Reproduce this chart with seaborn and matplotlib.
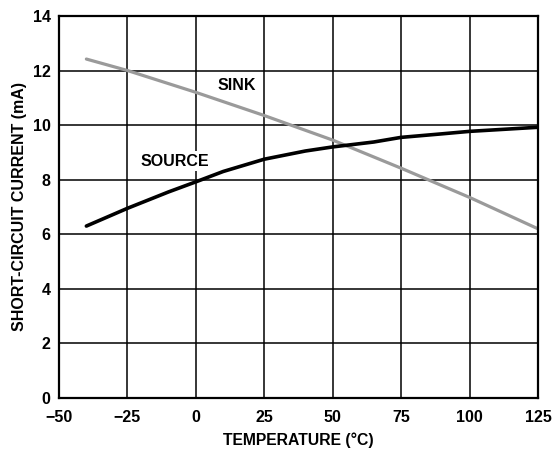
import pandas as pd
import matplotlib.pyplot as plt
import seaborn as sns

# readings (temperature in °C, current in mA)
sink_temp = [-40, -25, 0, 25, 50, 75, 100, 125]
sink_current = [12.42, 12.0, 11.2, 10.35, 9.45, 8.42, 7.35, 6.2]

source_temp = [-40, -25, -10, 0, 10, 25, 40, 50, 65, 75, 90, 100, 125]
source_current = [6.3, 6.95, 7.55, 7.92, 8.3, 8.75, 9.05, 9.2, 9.38, 9.55, 9.68, 9.77, 9.92]

x_ticks = [-50, -25, 0, 25, 50, 75, 100, 125]
y_ticks = [0, 2, 4, 6, 8, 10, 12, 14]

sns.set_style('white')
plt.rcParams['font.family'] = ['Liberation Sans', 'DejaVu Sans']
plt.rcParams['font.weight'] = 'bold'
plt.rcParams['text.color'] = 'black'
plt.rcParams['axes.labelcolor'] = 'black'
plt.rcParams['xtick.color'] = 'black'
plt.rcParams['ytick.color'] = 'black'

fig = plt.figure(figsize=(5.55, 4.5), dpi=100)
ax = fig.add_axes([0.1063, 0.1156, 0.863, 0.849])

sink = pd.DataFrame({'temp': sink_temp, 'current': sink_current})
source = pd.DataFrame({'temp': source_temp, 'current': source_current})

sns.lineplot(data=sink, x='temp', y='current', color='#9a9a9a', linewidth=2.3, ax=ax)
sns.lineplot(data=source, x='temp', y='current', color='black', linewidth=2.6, ax=ax)

ax.text(15, 11.45, 'SINK', fontsize=11.5, fontweight='bold', ha='center', va='center')
ax.text(-7.5, 8.68, 'SOURCE', fontsize=11.5, fontweight='bold', ha='center', va='center',
        bbox=dict(facecolor='white', edgecolor='none', pad=2))

ax.set_xlim(-50, 125)
ax.set_ylim(0, 14)
ax.set_xticks(x_ticks)
ax.set_yticks(y_ticks)
ax.tick_params(length=0, labelsize=11.5)
ax.tick_params(axis='x', pad=9)
ax.tick_params(axis='y', pad=6)
for lab in ax.get_xticklabels() + ax.get_yticklabels():
    lab.set_fontweight('bold')
ax.grid(True, color='black', linewidth=1.1)
for s in ax.spines.values():
    s.set_color('black')
    s.set_linewidth(1.6)

ax.set_xlabel('TEMPERATURE (°C)', fontsize=11.3, fontweight='bold', labelpad=5)
ax.set_ylabel('SHORT-CIRCUIT CURRENT (mA)', fontsize=11.5, fontweight='bold', labelpad=4)

plt.savefig('out.png', dpi=100)
plt.close()
